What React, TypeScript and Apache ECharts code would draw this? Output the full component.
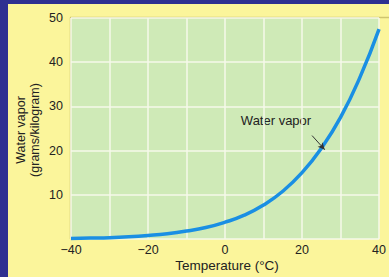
import React, { useEffect, useRef } from "react";
import * as echarts from "echarts";

const temps = [-40, -35, -30, -25, -20, -15, -10, -5, 0, 5, 10, 15, 20, 25, 30, 35, 40];
const vapor = [0.1, 0.2, 0.3, 0.5, 0.8, 1.2, 1.8, 2.6, 3.8, 5.4, 7.7, 10.8, 15.0, 20.5, 27.5, 36.5, 47.5];
const xTicks = [-40, -20, 0, 20, 40];
const yTicks = [10, 20, 30, 40, 50];
const seriesName = "Water vapor";
const xTitle = "Temperature (°C)";
const yTitle = "Water vapor\n(grams/kilogram)";
const arrowFrom = [22.6, 23.4];
const arrowTo = [25.9, 20.2];

const FONT = "Liberation Sans, Arial, sans-serif";

export default function App() {
  const ref = useRef<HTMLDivElement>(null);
  useEffect(() => {
    if (!ref.current) return;
    const chart = echarts.init(ref.current, null, { renderer: "svg" });
    const data = temps.map((t, i) => [t, vapor[i]]);
    chart.setOption({
      animation: false,
      backgroundColor: "#fbf59b",
      grid: {
        left: 71,
        top: 18,
        right: 5,
        bottom: 38,
        show: true,
        backgroundColor: "#cfeab7",
        borderWidth: 0,
      },
      xAxis: {
        type: "value",
        min: -40,
        max: 40,
        interval: 10,
        axisLine: { show: false },
        axisTick: { show: false },
        splitLine: { show: true, lineStyle: { color: "#f6f9ea", width: 1.5 } },
        axisLabel: {
          color: "#222",
          fontSize: 12.5,
          fontFamily: FONT,
          margin: 4,
          formatter: (v: number) =>
            xTicks.includes(v) ? String(v).replace("-", "\u2212") : "",
        },
      },
      yAxis: {
        type: "value",
        min: 0,
        max: 50,
        interval: 10,
        axisLine: { show: false },
        axisTick: { show: false },
        splitLine: { show: true, lineStyle: { color: "#f6f9ea", width: 1.5 } },
        axisLabel: {
          color: "#222",
          fontSize: 12.5,
          fontFamily: FONT,
          margin: 8,
          formatter: (v: number) => (yTicks.includes(v) ? String(v) : ""),
        },
      },
      series: [
        {
          name: seriesName,
          type: "line",
          data,
          smooth: true,
          showSymbol: false,
          lineStyle: { color: "#1a8fe3", width: 3.5 },
          markLine: {
            silent: true,
            symbol: ["none", "arrow"],
            symbolSize: [5, 7],
            lineStyle: { color: "#333", width: 1, type: "solid" },
            label: { show: false },
            data: [[{ coord: arrowFrom }, { coord: arrowTo }]],
          },
        },
      ],
      graphic: [
        { type: "rect", shape: { x: 0, y: 0, width: 389, height: 4 }, style: { fill: "#2e3091" } },
        { type: "rect", shape: { x: 0, y: 0, width: 8, height: 277 }, style: { fill: "#2e3091" } },
        { type: "line", shape: { x1: 70, y1: 17.5, x2: 389, y2: 17.5 }, style: { stroke: "#cfc56f", lineWidth: 1.5 } },
        { type: "line", shape: { x1: 70.5, y1: 17.5, x2: 70.5, y2: 239 }, style: { stroke: "#cfc56f", lineWidth: 1.5 } },
        {
          type: "text",
          x: 28,
          y: 130,
          rotation: Math.PI / 2,
          style: {
            text: yTitle,
            fill: "#222",
            font: `12.5px ${FONT}`,
            align: "center",
            verticalAlign: "middle",
            lineHeight: 14,
          },
        },
        {
          type: "text",
          x: 227,
          y: 265,
          style: {
            text: xTitle,
            fill: "#222",
            font: `13.5px ${FONT}`,
            align: "center",
            verticalAlign: "middle",
          },
        },
        {
          type: "text",
          x: 276,
          y: 120,
          style: {
            text: seriesName,
            fill: "#222",
            font: `13px ${FONT}`,
            align: "center",
            verticalAlign: "middle",
          },
        },
      ],
    });
    return () => chart.dispose();
  }, []);
  return (
    <div
      ref={ref}
      style={{ position: "fixed", left: 0, top: 0, width: 389, height: 277 }}
    />
  );
}
